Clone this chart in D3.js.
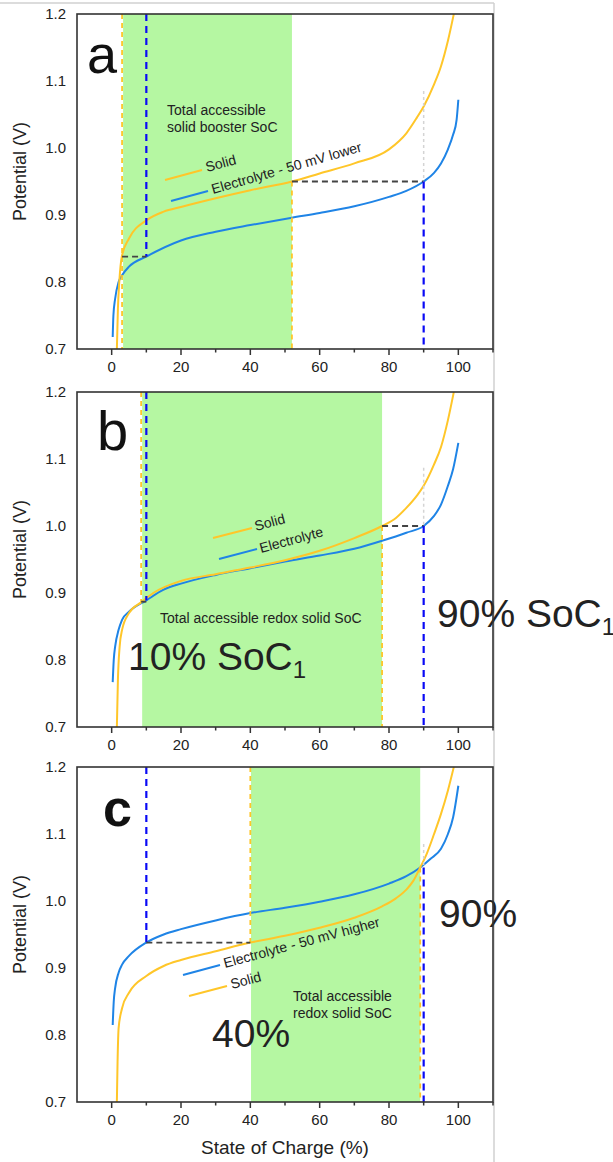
<!DOCTYPE html>
<html>
<head>
<meta charset="utf-8">
<script src="https://d3js.org/d3.v7.min.js"></script>
<style>
  body { margin: 0; background: #fff; }
  svg { display: block; font-family: "Liberation Sans", Arial, sans-serif; }
</style>
</head>
<body>
<script>
// Potential (V) vs state of charge (%)
var solidA = [[1.5,0.70],[1.8,0.76],[2.2,0.80],[3,0.84],[5,0.865],[10,0.892],[15,0.905],[20,0.912],[30,0.925],[40,0.937],[52,0.95],[60,0.962],[70,0.977],[80,0.998],[85,1.022],[88,1.045],[90,1.062],[93,1.095],[95,1.122],[97,1.16],[98.7,1.2]];
var electrolyteA = [[0.3,0.718],[0.5,0.75],[1,0.775],[2,0.8],[3,0.81],[5,0.823],[10,0.838],[20,0.862],[30,0.875],[40,0.885],[52,0.896],[60,0.903],[70,0.913],[80,0.927],[85,0.936],[90,0.95],[93,0.963],[95,0.977],[97,0.998],[98.5,1.02],[99.5,1.042],[100,1.072]];

var solidB = [[1.5,0.70],[1.8,0.77],[2.3,0.82],[3,0.845],[5,0.87],[8.5,0.886],[12,0.9],[20,0.918],[30,0.928],[40,0.938],[50,0.949],[60,0.963],[70,0.982],[78,1.0],[82,1.012],[85,1.027],[88,1.045],[90,1.06],[93,1.092],[95,1.118],[97,1.158],[98.7,1.2]];
var electrolyteB = [[0.3,0.767],[0.6,0.8],[1,0.82],[2,0.845],[3,0.86],[5,0.872],[10,0.889],[15,0.905],[20,0.914],[30,0.927],[40,0.937],[50,0.947],[60,0.956],[70,0.966],[78,0.978],[85,0.99],[90,1.0],[93,1.015],[95,1.032],[97,1.06],[98.5,1.085],[100,1.124]];

var solidC = [[1.5,0.7],[1.7,0.76],[2,0.81],[3,0.84],[5,0.863],[10,0.888],[15,0.903],[20,0.912],[30,0.925],[40,0.938],[50,0.948],[60,0.96],[70,0.975],[78,0.992],[82,1.004],[85,1.017],[87,1.03],[89,1.05],[91,1.072],[93,1.1],[95,1.13],[97,1.165],[98.7,1.2]];
var electrolyteC = [[0.3,0.815],[0.6,0.85],[1,0.87],[2,0.893],[3,0.905],[5,0.918],[10,0.938],[15,0.95],[20,0.958],[30,0.971],[40,0.982],[50,0.99],[60,0.999],[70,1.01],[80,1.026],[85,1.037],[89,1.05],[92,1.063],[95,1.078],[97,1.1],[98.5,1.125],[100,1.172]];

// accessible SoC window [from, to]
var windowA = [3.3, 52], windowB = [8.8, 78], windowC = [40.2, 89];

// guide lines: [kind, x1, y1, x2, y2]
var guidesA = [["y",3,1.2,3,0.7],["b",10,1.2,10,0.838],["k",3,0.838,10,0.838],["y",52,0.95,52,0.7],["k",52,0.95,90,0.95],["g",90,1.085,90,0.95],["b",90,0.95,90,0.7]];
var guidesB = [["y",8.5,1.2,8.5,0.886],["b",10,1.2,10,0.889],["k",8.5,0.887,10,0.887],["y",78,1.0,78,0.7],["k",78,1.0,90,1.0],["g",90,1.087,90,1.0],["b",90,1.0,90,0.7]];
var guidesC = [["b",10,1.2,10,0.938],["y",40,1.2,40,0.938],["k",10,0.938,40,0.938],["y",89,1.05,89,0.7],["g",90,1.085,90,1.05],["b",90,1.05,90,0.7]];

var xTicks = [0, 20, 40, 60, 80, 100];
var xMinor = [10, 30, 50, 70, 90, 110];
var yTicks = [0.7, 0.8, 0.9, 1.0, 1.1, 1.2];

var W = 613, H = 1162;
var left = 77, plotW = 416, plotH = 335;
var tops = [14, 392, 767];

var yellow = "#FFC629", blue = "#1F84E6";
var guideStyle = {
  y: {stroke: "#FFC629", width: 1.8, dash: "5,4"},
  b: {stroke: "#0A0AF5", width: 2.2, dash: "7,5"},
  k: {stroke: "#444", width: 1.8, dash: "6,4"},
  g: {stroke: "#d4d4d4", width: 1.5, dash: "3,3"}
};

var svg = d3.select("body").append("svg").attr("width", W).attr("height", H);

// screenshot border lines
svg.append("line").attr("x1", 0).attr("x2", 494).attr("y1", 3).attr("y2", 3)
  .attr("stroke", "#d0d0d0").attr("stroke-width", 1.5);
svg.append("line").attr("x1", 494).attr("x2", 494).attr("y1", 3).attr("y2", H)
  .attr("stroke", "#d0d0d0").attr("stroke-width", 1.5);

var x = d3.scaleLinear().domain([-10, 110]).range([left, left + plotW]);

var panels = [
  {letter: "a", letterPos: [10, 59], letterSize: 54, weight: "normal", solid: solidA, elec: electrolyteA, win: windowA, guides: guidesA,
   legend: [
     {color: yellow, seg: [88,166,125,156], text: "Solid", at: [130,158], rot: -15},
     {color: blue, seg: [94,187,131,177], text: "Electrolyte - 50 mV lower", at: [136,180], rot: -16}],
   notes: [{text: "Total accessible", at: [90,101], size: 14}, {text: "solid booster SoC", at: [90,118], size: 14}]},
  {letter: "b", letterPos: [20, 58], letterSize: 56, weight: "normal", solid: solidB, elec: electrolyteB, win: windowB, guides: guidesB,
   legend: [
     {color: yellow, seg: [136,146,175,136], text: "Solid", at: [179,139], rot: -15},
     {color: blue, seg: [142,167,180,157], text: "Electrolyte", at: [184,161], rot: -15}],
   notes: [{text: "Total accessible redox solid SoC", at: [83,231], size: 14},
           {text: "10% SoC", sub: "1", at: [51,278], size: 39},
           {text: "90% SoC", sub: "1", at: [360,235], size: 39}]},
  {letter: "c", letterPos: [26, 59], letterSize: 52, weight: "bold", solid: solidC, elec: electrolyteC, win: windowC, guides: guidesC,
   legend: [
     {color: blue, seg: [106,208,143,198], text: "Electrolyte - 50 mV higher", at: [148,201], rot: -15},
     {color: yellow, seg: [112,229,150,219], text: "Solid", at: [155,222], rot: -15}],
   notes: [{text: "Total accessible", at: [216,234], size: 14}, {text: "redox solid SoC", at: [216,251], size: 14},
           {text: "40%", at: [135,280], size: 39}, {text: "90%", at: [362,160], size: 39}]}
];

panels.forEach(function(p, i) {
  var top = tops[i];
  var y = d3.scaleLinear().domain([0.7, 1.2]).range([top + plotH, top]);
  var g = svg.append("g");

  var clipId = "clip" + i;
  svg.append("clipPath").attr("id", clipId).append("rect")
    .attr("x", left).attr("y", top).attr("width", plotW).attr("height", plotH);

  // accessible window
  g.append("rect")
    .attr("x", x(p.win[0])).attr("y", top)
    .attr("width", x(p.win[1]) - x(p.win[0])).attr("height", plotH)
    .attr("fill", "#B5F7A2");

  var line = d3.line().x(function(d) { return x(d[0]); }).y(function(d) { return y(d[1]); })
    .curve(d3.curveMonotoneX);

  var curves = g.append("g").attr("clip-path", "url(#" + clipId + ")");
  curves.append("path").datum(p.elec).attr("d", line)
    .attr("fill", "none").attr("stroke", blue).attr("stroke-width", 2);
  curves.append("path").datum(p.solid).attr("d", line)
    .attr("fill", "none").attr("stroke", yellow).attr("stroke-width", 2);

  // dashed guides
  p.guides.forEach(function(d) {
    var s = guideStyle[d[0]];
    g.append("line")
      .attr("x1", x(d[1])).attr("y1", y(d[2])).attr("x2", x(d[3])).attr("y2", y(d[4]))
      .attr("stroke", s.stroke).attr("stroke-width", s.width).attr("stroke-dasharray", s.dash);
  });

  // legend segments and labels
  p.legend.forEach(function(l) {
    g.append("line")
      .attr("x1", left + l.seg[0]).attr("y1", top + l.seg[1])
      .attr("x2", left + l.seg[2]).attr("y2", top + l.seg[3])
      .attr("stroke", l.color).attr("stroke-width", 2);
    var tx = left + l.at[0], ty = top + l.at[1];
    g.append("text").attr("x", tx).attr("y", ty)
      .attr("transform", "rotate(" + l.rot + "," + tx + "," + ty + ")")
      .attr("font-size", 14).attr("fill", "#222").text(l.text);
  });

  p.notes.forEach(function(n) {
    var t = g.append("text").attr("x", left + n.at[0]).attr("y", top + n.at[1])
      .attr("font-size", n.size).attr("fill", "#222").text(n.text);
    if (n.sub) t.append("tspan").attr("font-size", 24).attr("dy", 8).text(n.sub);
  });

  g.append("text").attr("x", left + p.letterPos[0]).attr("y", top + p.letterPos[1])
    .attr("font-size", p.letterSize).attr("font-weight", p.weight).attr("fill", "#111").text(p.letter);

  // frame
  g.append("rect").attr("x", left).attr("y", top).attr("width", plotW).attr("height", plotH)
    .attr("fill", "none").attr("stroke", "#333").attr("stroke-width", 1.6);

  // x ticks
  var bottom = top + plotH;
  g.selectAll(".maj").data(xTicks).enter().append("line")
    .attr("x1", function(d) { return x(d); }).attr("x2", function(d) { return x(d); })
    .attr("y1", bottom).attr("y2", bottom + 6).attr("stroke", "#333").attr("stroke-width", 1.5);
  g.selectAll(".mnr").data(xMinor).enter().append("line")
    .attr("x1", function(d) { return x(d); }).attr("x2", function(d) { return x(d); })
    .attr("y1", bottom).attr("y2", bottom + 3.5).attr("stroke", "#333").attr("stroke-width", 1.5);
  g.selectAll(".xl").data(xTicks).enter().append("text")
    .attr("x", function(d) { return x(d); }).attr("y", bottom + 23)
    .attr("text-anchor", "middle").attr("font-size", 15).attr("fill", "#222")
    .text(function(d) { return d; });

  // y tick labels
  g.selectAll(".yl").data(yTicks).enter().append("text")
    .attr("x", 66).attr("y", function(d) { return y(d) + 5; })
    .attr("text-anchor", "end").attr("font-size", 15).attr("fill", "#222")
    .text(function(d) { return d.toFixed(1); });

  var cy = top + plotH / 2 - 10;
  g.append("text").attr("transform", "translate(26," + cy + ") rotate(-90)")
    .attr("text-anchor", "middle").attr("font-size", 18).attr("fill", "#222")
    .text("Potential (V)");
});

svg.append("text").attr("x", left + plotW / 2).attr("y", 1154)
  .attr("text-anchor", "middle").attr("font-size", 19).attr("fill", "#222")
  .text("State of Charge (%)");
</script>
</body>
</html>
